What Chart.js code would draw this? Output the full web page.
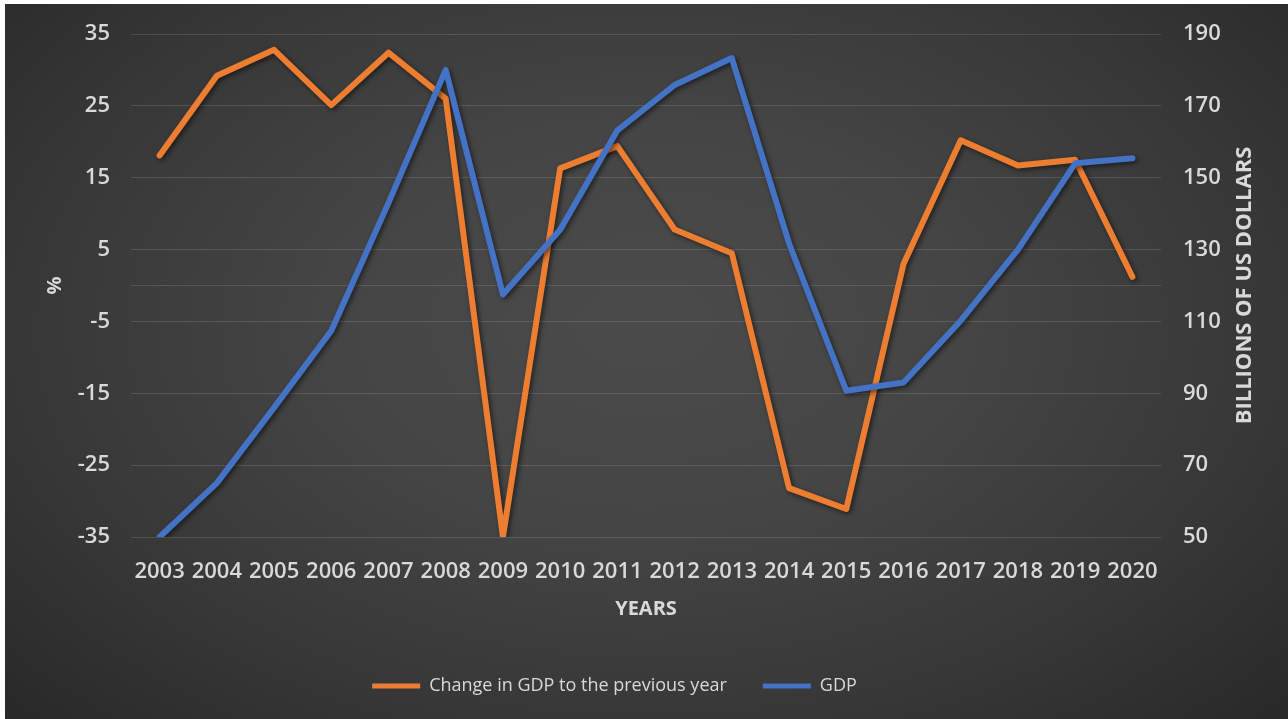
<!DOCTYPE html>
<html>
<head>
<meta charset="utf-8">
<title>GDP</title>
<script src="https://cdn.jsdelivr.net/npm/chart.js@4.4.0/dist/chart.umd.min.js"></script>
<style>
    html, body { margin: 0; padding: 0; background: #fff; }
    #wrap {
        position: absolute; left: 5px; top: 4px; width: 1283px; height: 715px;
        background: radial-gradient(ellipse 70% 80% at 50% 45%, #4b4b4b 0%, #454545 35%, #373737 70%, #282828 100%);
    }
</style>
</head>
<body>
<div id="wrap"><canvas id="gdpChart"></canvas></div>
<script>
const years = ['2003', '2004', '2005', '2006', '2007', '2008', '2009', '2010', '2011',
    '2012', '2013', '2014', '2015', '2016', '2017', '2018', '2019', '2020'];
// % change to previous year
const gdpChange = [18.1, 29.2, 32.8, 25.1, 32.4, 26.0, -35.0, 16.3, 19.4,
    7.8, 4.5, -28.2, -31.1, 3.0, 20.2, 16.7, 17.5, 1.2];
// billions of US dollars
const gdpBillions = [50, 65, 86, 107.4, 143, 180, 117.5, 135.5, 163.2,
    175.8, 183.3, 131.7, 90.7, 93, 110.2, 130, 154, 155.4];
const pctTicks = [-35, -25, -15, -5, 5, 15, 25, 35];
const usdTicks = [50, 70, 90, 110, 130, 150, 170, 190];

const textColor = '#d9d9d9';
const gridColor = 'rgba(255,255,255,0.13)';
const tickFont = { family: 'Open Sans', size: 22, weight: '600' };
const titleFont = { family: 'Open Sans', size: 20, weight: 'bold' };

// soft drop shadow under both lines
const lineShadow = {
    id: 'lineShadow',
    beforeDatasetsDraw(chart) {
        const ctx = chart.ctx;
        ctx.save();
        ctx.shadowColor = 'rgba(0,0,0,0.55)';
        ctx.shadowBlur = 5;
        ctx.shadowOffsetX = 2;
        ctx.shadowOffsetY = 2;
    },
    afterDatasetsDraw(chart) {
        chart.ctx.restore();
    }
};

// right axis title reads bottom-to-top
const rightTitle = {
    id: 'rightTitle',
    afterDraw(chart) {
        const ctx = chart.ctx;
        const area = chart.chartArea;
        ctx.save();
        ctx.translate(area.right + 84, (area.top + area.bottom) / 2);
        ctx.rotate(-Math.PI / 2);
        ctx.textAlign = 'center';
        ctx.textBaseline = 'middle';
        ctx.fillStyle = textColor;
        ctx.font = 'bold 22px "Open Sans"';
        ctx.fillText('BILLIONS OF US DOLLARS', 0, 0);
        ctx.restore();
    }
};

// y axes: fixed width, and no extra top/bottom room for the tick labels
function fitY(width) {
    return function (scale) {
        scale.width = width;
        scale.paddingTop = 0;
        scale.paddingBottom = 0;
    };
}

new Chart(document.getElementById('gdpChart'), {
    type: 'line',
    data: {
        labels: years,
        datasets: [{
            label: 'Change in GDP to the previous year',
            data: gdpChange,
            yAxisID: 'yPct',
            borderColor: '#ED7D31',
            backgroundColor: '#ED7D31',
            borderWidth: 6,
            order: 1
        }, {
            label: 'GDP',
            data: gdpBillions,
            yAxisID: 'yUsd',
            borderColor: '#4472C4',
            backgroundColor: '#4472C4',
            borderWidth: 6,
            order: 0
        }]
    },
    options: {
        responsive: true,
        maintainAspectRatio: false,
        animation: false,
        layout: { padding: { top: 30, left: 0, right: 64, bottom: 14 } },
        elements: {
            point: { radius: 0, hoverRadius: 0 },
            line: { tension: 0, borderJoinStyle: 'round', borderCapStyle: 'round' }
        },
        plugins: {
            tooltip: { enabled: false },
            legend: {
                position: 'bottom',
                labels: {
                    color: textColor,
                    font: { family: 'Open Sans', size: 18 },
                    boxWidth: 48,
                    boxHeight: 5,
                    padding: 36,
                    sort: (a, b) => a.datasetIndex - b.datasetIndex,
                    generateLabels(chart) {
                        return Chart.defaults.plugins.legend.labels.generateLabels(chart)
                            .map(item => Object.assign(item, { lineWidth: 0 }));
                    }
                }
            }
        },
        scales: {
            x: {
                offset: true,
                grid: { display: false, drawTicks: false },
                border: { display: false },
                ticks: { color: textColor, font: tickFont, padding: 22, autoSkip: false, maxRotation: 0 },
                title: { display: true, text: 'YEARS', color: textColor, font: titleFont, padding: { top: 0, bottom: 20 } },
                afterFit(scale) { scale.height = 104; }
            },
            yPct: {
                position: 'left',
                min: -35,
                max: 35,
                afterBuildTicks(scale) {
                    // extra gridline where the category axis crosses 0
                    scale.ticks = pctTicks.concat([0]).sort((a, b) => a - b).map(v => ({ value: v }));
                },
                grid: { color: gridColor, drawTicks: false },
                border: { display: false },
                ticks: {
                    color: textColor, font: tickFont, padding: 21,
                    callback: v => (v === 0 ? '' : v)
                },
                title: { display: true, text: '%', color: textColor, font: titleFont, padding: { top: 38, bottom: 0 } },
                afterFit: fitY(126)
            },
            yUsd: {
                position: 'right',
                min: 50,
                max: 190,
                afterBuildTicks(scale) {
                    scale.ticks = usdTicks.map(v => ({ value: v }));
                },
                grid: { display: false, drawTicks: false },
                border: { display: false },
                ticks: { color: textColor, font: tickFont, padding: 22 },
                afterFit: fitY(63)
            }
        }
    },
    plugins: [lineShadow, rightTitle]
});
</script>
</body>
</html>
